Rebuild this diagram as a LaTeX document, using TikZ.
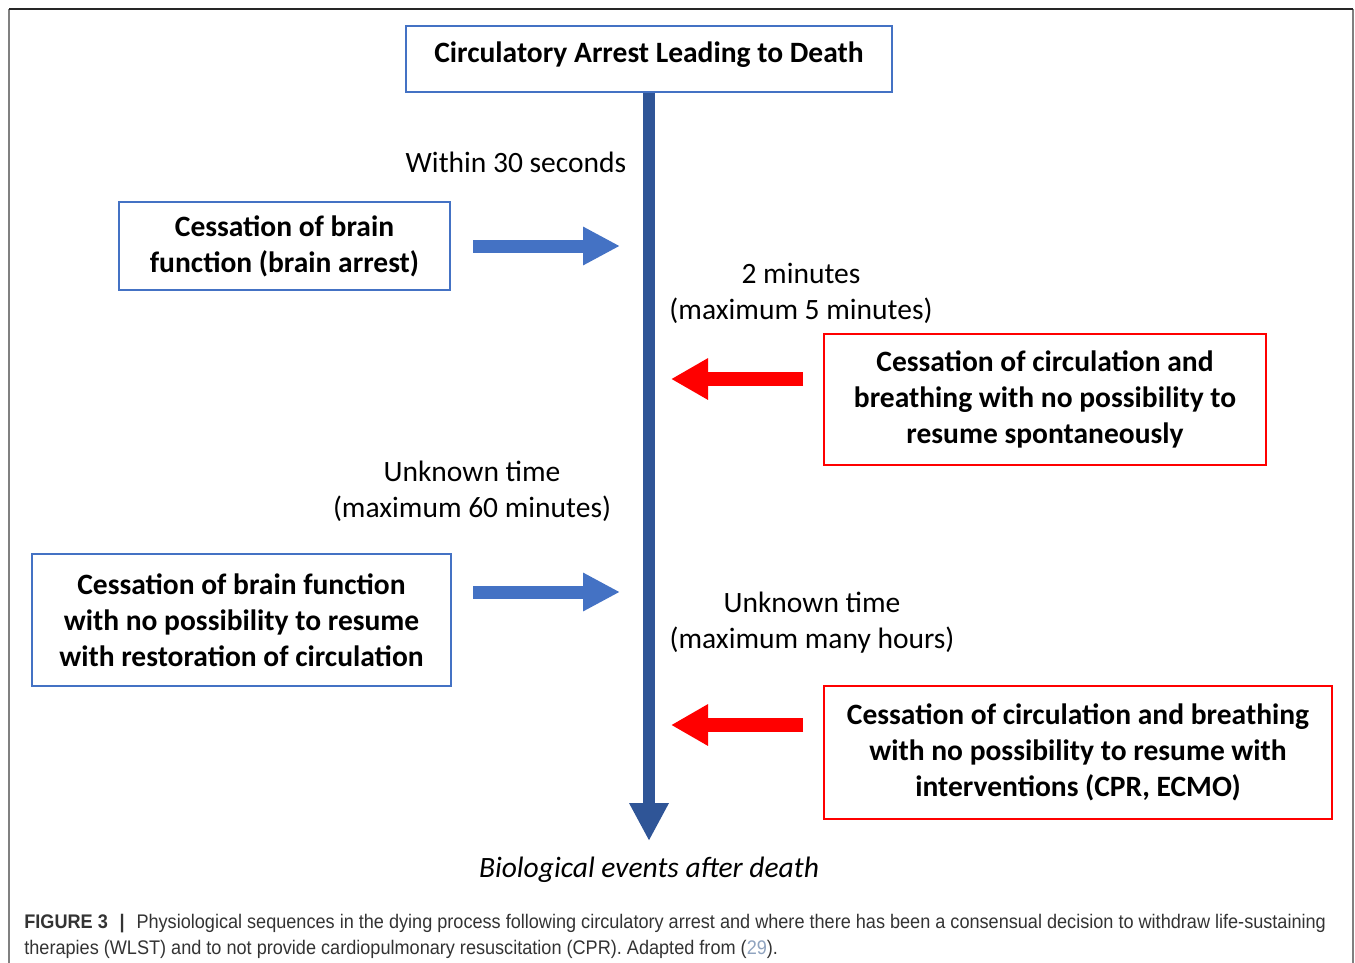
\documentclass[tikz,border=0pt]{standalone}
\usepackage{fontspec}
\setmainfont{Carlito}
\newfontfamily\capfont[FakeStretch=0.92]{Liberation Sans}
\usetikzlibrary{arrows.meta}
\definecolor{boxblue}{HTML}{4472C4}
\definecolor{axisblue}{HTML}{2F5597}
\definecolor{arrred}{HTML}{FF0000}
\definecolor{capgray}{HTML}{333333}
\definecolor{refblue}{HTML}{8FA3BF}
\begin{document}
\begin{tikzpicture}[x=0.02cm,y=-0.02cm,
  txt/.style={font=\fontsize{16.8}{20.6}\selectfont,align=center,inner sep=0pt},
  bluebox/.style={txt,draw=boxblue,line width=1.1pt,font=\fontsize{16.8}{20.6}\selectfont\bfseries},
  redbox/.style={txt,draw=arrred,line width=1.1pt,font=\fontsize{16.8}{20.6}\selectfont\bfseries},
  mainarrow/.style={draw=axisblue,line width=0.24cm,-{Triangle[length=0.76cm,width=0.74cm]}},
  bluearrow/.style={draw=boxblue,line width=0.26cm,-{Triangle[length=0.74cm,width=0.72cm]}},
  redarrow/.style={draw=arrred,line width=0.27cm,-{Triangle[length=0.74cm,width=0.78cm]}}]
\useasboundingbox (0,0) rectangle (1355,963);
% frame
\draw[gray,line width=0.6pt] (9,963)--(9,9);
\draw[gray,line width=0.6pt] (1353,9)--(1353,963);
\draw[black!85,line width=0.6pt] (9,9)--(1353,9);
% boxes
\node[bluebox,anchor=base,minimum width=9.74cm,text height=0.74cm,text depth=0.58cm] (title) at (649,63) {Circulatory Arrest Leading to Death};
\node[bluebox,minimum width=6.62cm,minimum height=1.76cm] (brain) at (284.5,246) {Cessation of brain\\function (brain arrest)};
\node[redbox,minimum width=8.84cm,minimum height=2.62cm] (circ) at (1045,399.5) {Cessation of circulation and\\breathing with no possibility to\\resume spontaneously};
\node[bluebox,minimum width=8.38cm,minimum height=2.64cm] (brainres) at (241.5,620) {Cessation of brain function\\with no possibility to resume\\with restoration of circulation};
\node[redbox,minimum width=10.16cm,minimum height=2.66cm] (circint) at (1078,752.5) {Cessation of circulation and breathing\\with no possibility to resume with\\interventions (CPR, ECMO)};
% time labels
\node[txt] (t30) at (516,162) {Within 30 seconds};
\node[txt] (t2) at (801,293) {2 minutes\\(maximum 5 minutes)};
\node[txt] (t60) at (472,491) {Unknown time\\(maximum 60 minutes)};
\node[txt] (thrs) at (812,623) {Unknown time\\(maximum many hours)};
\node[txt,font=\fontsize{16.8}{20.6}\selectfont\itshape] (bio) at (649,870) {Biological events after death};
% arrows
\coordinate (axisend) at (649,841);
\draw[mainarrow] (title.south) -- (axisend);
\coordinate (ba1s) at (473,246);
\coordinate (ba1e) at (620,246);
\draw[bluearrow] (ba1s) -- (ba1e);
\coordinate (ba2s) at (473,592);
\coordinate (ba2e) at (620,592);
\draw[bluearrow] (ba2s) -- (ba2e);
\coordinate (ra1s) at (803,379);
\coordinate (ra1e) at (671,379);
\draw[redarrow] (ra1s) -- (ra1e);
\coordinate (ra2s) at (803,725);
\coordinate (ra2e) at (671,725);
\draw[redarrow] (ra2s) -- (ra2e);
% caption
\node[anchor=base west,align=left,inner sep=0pt,text=capgray,font=\capfont\fontsize{11.2}{14.3}\selectfont] (cap) at (24,954)
 {{\bfseries FIGURE 3\hspace{0.6em}|}\hspace{0.6em}Physiological sequences in the dying process following circulatory arrest and where there has been a consensual decision to withdraw life-sustaining\\therapies (WLST) and to not provide cardiopulmonary resuscitation (CPR). Adapted from ({\color{refblue}29}).};
\end{tikzpicture}
\end{document}
